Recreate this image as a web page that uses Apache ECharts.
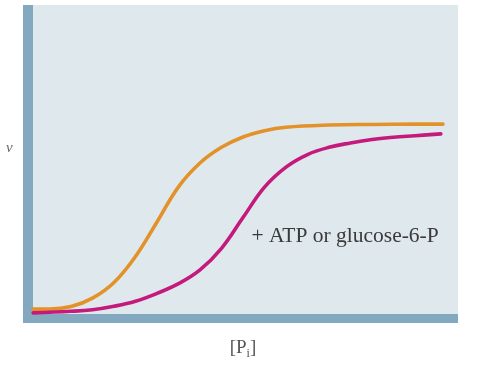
<!DOCTYPE html>
<html><head><meta charset="utf-8">
<script src="https://cdn.jsdelivr.net/npm/echarts@6/dist/echarts.min.js"></script>
<style>html,body{margin:0;padding:0;background:#fff}#c{width:484px;height:370px}</style>
</head><body><div id="c"></div>
<script>
const controlX = [1.2, 5, 10, 15, 20, 25, 30, 35, 40, 45, 50, 55, 60, 70, 80, 90, 96.5];
const controlV = [3.0, 3.0, 3.8, 6.5, 11.5, 19.8, 30.8, 42.0, 49.6, 54.6, 57.9, 59.9, 61.0, 61.7, 61.9, 62.0, 62.0];
const inhibX = [1.2, 10, 15, 20, 25, 30, 35, 40, 45, 50, 55, 60, 65, 70, 75, 80, 85, 90, 96];
const inhibV = [1.8, 2.3, 2.8, 3.9, 5.5, 8.0, 11.1, 15.5, 22.4, 32.2, 41.9, 48.3, 52.3, 54.6, 56.0, 57.1, 57.8, 58.3, 58.9];
const annotation = '+ ATP or glucose-6-P';
const annotationAt = [52.0, 26.3];
const yLabel = 'v';

const chart = echarts.init(document.getElementById('c'), null, {renderer: 'canvas'});
const serif = '"Liberation Serif", "DejaVu Serif", serif';
chart.setOption({
  animation: false,
  grid: {left: 28, right: 26, top: 5, bottom: 51.5, show: true, backgroundColor: '#dfe8ed', borderWidth: 0},
  graphic: [
    {type: 'rect', shape: {x: 23, y: 318, width: 6, height: 5}, style: {fill: '#83a9c0'}, z: 10},
    {type: 'text', left: 6, top: 141, style: {text: yLabel, font: 'italic 15px ' + serif, fill: '#666'}}
  ],
  xAxis: {
    type: 'value', min: 0, max: 100,
    axisLine: {show: true, lineStyle: {color: '#83a9c0', width: 9, cap: 'butt'}},
    axisTick: {show: false}, axisLabel: {show: false}, splitLine: {show: false},
    name: '{a|[P}{s|i}{a|]}', nameLocation: 'middle', nameGap: 19,
    nameTextStyle: {rich: {a: {fontFamily: serif, fontSize: 19, color: '#555'}, s: {fontFamily: serif, fontSize: 12, color: '#555', padding: [10, 0, 0, 0]}}}
  },
  yAxis: {
    type: 'value', min: 0, max: 100,
    axisLine: {show: true, lineStyle: {color: '#83a9c0', width: 10, cap: 'butt'}},
    axisTick: {show: false}, axisLabel: {show: false}, splitLine: {show: false}
  },
  series: [
    {type: 'line', smooth: 0.4, symbol: 'none', data: controlX.map((x, i) => [x, controlV[i]]),
     lineStyle: {color: '#e3922a', width: 3.6, cap: 'round'}},
    {type: 'line', smooth: 0.4, symbol: 'none', data: inhibX.map((x, i) => [x, inhibV[i]]),
     lineStyle: {color: '#c41a7c', width: 3.6, cap: 'round'},
     markPoint: {symbol: 'circle', symbolSize: 0, silent: true,
       data: [{coord: annotationAt, label: {show: true, position: 'right', distance: 0, formatter: annotation,
         fontFamily: serif, fontSize: 21.5, color: '#3a3a3a'}}]}}
  ]
});
</script></body></html>
